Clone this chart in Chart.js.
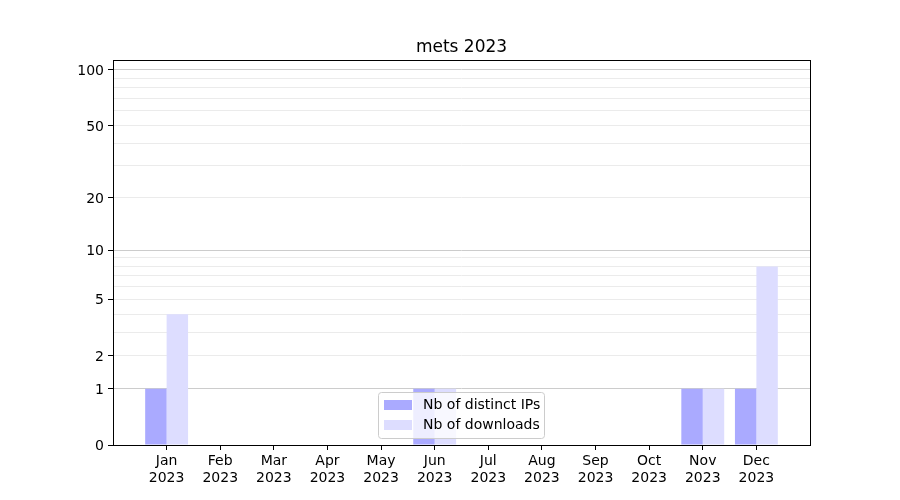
<!DOCTYPE html>
<html lang="en">
<head>
    <meta charset="UTF-8">
    <title>mets 2023</title>
    <script src="https://cdn.jsdelivr.net/npm/chart.js"></script>
    <style>
        body { margin: 0; background: #fff; }
        #wrap { width: 900px; height: 500px; }
    </style>
</head>
<body>
    <div id="wrap">
        <canvas id="metsChart" width="900" height="500"></canvas>
    </div>

    <script>
        // data
        const months = ['Jan', 'Feb', 'Mar', 'Apr', 'May', 'Jun', 'Jul', 'Aug', 'Sep', 'Oct', 'Nov', 'Dec'];
        const year = '2023';
        const distinctIps = [1, 0, 0, 0, 0, 1, 0, 0, 0, 0, 1, 1];
        const downloads = [4, 0, 0, 0, 0, 1, 0, 0, 0, 0, 1, 8];

        // y axis: log(1 + x) scale
        const yTicks = [0, 1, 2, 3, 4, 5, 6, 7, 8, 9, 10, 20, 30, 40, 50, 60, 70, 80, 90, 100];
        const yLabelled = [0, 1, 2, 5, 10, 20, 50, 100];
        const yMajorGrid = [1, 10, 100];
        const yTop = 113;

        const tf = v => Math.log10(1 + v);
        const FONT = 'DejaVu Sans';

        // blank slot on each side so months sit like matplotlib's x range
        const labels = [''].concat(months.map(m => [m, year]), ['']);
        const pad = arr => [null].concat(arr.map(tf), [null]);

        const boxAndTitle = {
            id: 'boxAndTitle',
            afterDatasetsDraw(chart) {
                const c = chart.ctx;
                const a = chart.chartArea;
                c.save();
                // legend, lower center, inside the axes
                const lx = 378.5, ly = 392.5, lw = 166, lh = 46;
                c.beginPath();
                c.roundRect(lx, ly, lw, lh, 3);
                c.fillStyle = 'rgba(255,255,255,0.8)';
                c.fill();
                c.strokeStyle = '#cccccc';
                c.lineWidth = 1;
                c.stroke();
                const items = chart.data.datasets;
                c.font = '14px "' + FONT + '"';
                c.textBaseline = 'middle';
                c.textAlign = 'left';
                items.forEach((ds, i) => {
                    const cy = 404.5 + i * 20.5;
                    c.fillStyle = ds.backgroundColor;
                    c.fillRect(384, Math.round(cy - 5), 28, 10);
                    c.fillStyle = '#000';
                    c.fillText(ds.label, 423, cy + 0.5);
                });
                // axes frame
                c.strokeStyle = '#000';
                c.lineWidth = 1;
                c.strokeRect(Math.round(a.left) + 0.5, Math.round(a.top) + 0.5,
                    Math.round(a.right - a.left), Math.round(a.bottom - a.top));
                // title
                c.font = '17px "' + FONT + '"';
                c.textAlign = 'center';
                c.textBaseline = 'alphabetic';
                c.fillText('mets 2023', (a.left + a.right) / 2, 52);
                c.restore();
            }
        };

        new Chart(document.getElementById('metsChart').getContext('2d'), {
            type: 'bar',
            data: {
                labels: labels,
                datasets: [
                    {
                        label: 'Nb of distinct IPs',
                        data: pad(distinctIps),
                        backgroundColor: '#aaaaff',
                        categoryPercentage: 0.8,
                        barPercentage: 1.0
                    },
                    {
                        label: 'Nb of downloads',
                        data: pad(downloads),
                        backgroundColor: '#ddddff',
                        categoryPercentage: 0.8,
                        barPercentage: 1.0
                    }
                ]
            },
            options: {
                responsive: false,
                animation: false,
                layout: { padding: { left: 0, right: 90, top: 60, bottom: 0 } },
                plugins: {
                    legend: { display: false },
                    title: { display: false },
                    tooltip: { enabled: false }
                },
                scales: {
                    x: {
                        offset: false,
                        grid: {
                            offset: false,
                            drawOnChartArea: false,
                            tickLength: 5,
                            tickColor: ctx => (ctx.index === 0 || ctx.index === labels.length - 1) ? 'rgba(0,0,0,0)' : '#000'
                        },
                        border: { display: false },
                        ticks: {
                            autoSkip: false,
                            maxRotation: 0,
                            padding: 3,
                            color: '#000',
                            font: { family: FONT, size: 14 }
                        },
                        afterFit: s => { s.height = 55; }
                    },
                    y: {
                        min: 0,
                        max: tf(yTop),
                        afterBuildTicks: s => {
                            s.ticks = yTicks.map(v => ({ value: tf(v) }));
                        },
                        grid: {
                            lineWidth: 1,
                            color: ctx => {
                                const v = yTicks[ctx.index];
                                if (v === 0 || v === undefined) return 'rgba(0,0,0,0)';
                                return yMajorGrid.includes(v) ? '#cccccc' : '#ebebeb';
                            },
                            tickLength: 5,
                            tickColor: ctx => yLabelled.includes(yTicks[ctx.index]) ? '#000' : 'rgba(0,0,0,0)'
                        },
                        border: { display: false },
                        ticks: {
                            autoSkip: false,
                            padding: 4,
                            labelOffset: 1.5,
                            color: '#000',
                            font: { family: FONT, size: 14 },
                            callback: (val, i) => yLabelled.includes(yTicks[i]) ? String(yTicks[i]) : ''
                        },
                        afterFit: s => { s.width = 113; }
                    }
                }
            },
            plugins: [boxAndTitle]
        });
    </script>
</body>
</html>
